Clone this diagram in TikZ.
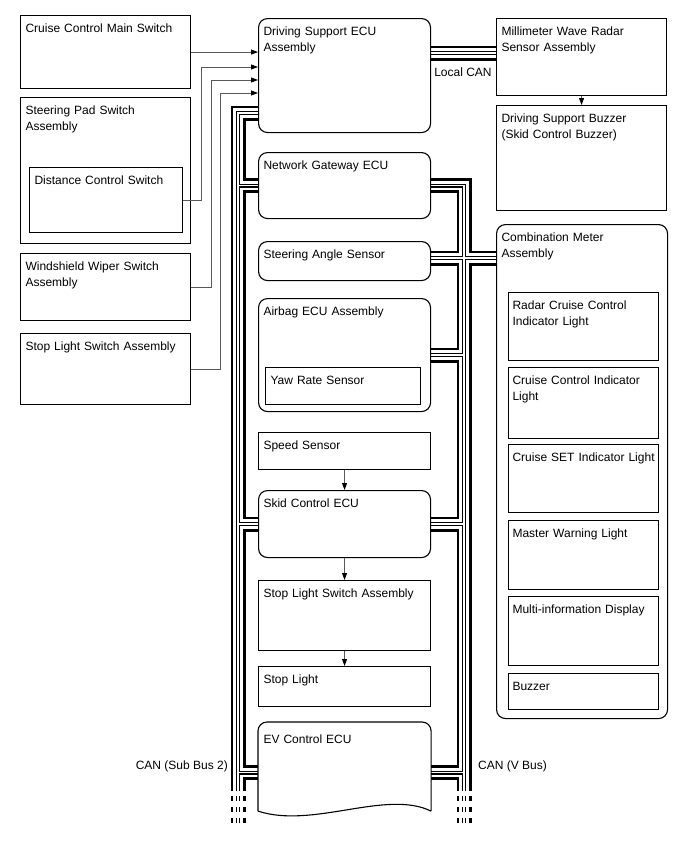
\documentclass[tikz,border=0pt]{standalone}
\usepackage{fontspec}
\setmainfont{Liberation Sans}
\usetikzlibrary{arrows.meta,calc,backgrounds}

\begin{document}
\begin{tikzpicture}[x=1pt,y=-1pt,
  caja/.style 2 args={draw,line width=1.1pt,anchor=north west,align=left,inner xsep=5pt,inner ysep=0pt,
    text width=#1,text height=17pt,text depth=#2,font=\fontsize{12}{16}\selectfont},
  cajar/.style 2 args={caja={#1}{#2},rounded corners=9pt},
  etiq/.style={inner sep=0pt,font=\fontsize{12}{16}\selectfont},
  sen/.style={line width=0.8pt,draw=black!65,-{Triangle[length=7pt,width=5pt,color=black]}}]
\useasboundingbox (0,0) rectangle (688,852);

%Interruptores (columna izquierda)
\node[caja={160pt}{56pt}] (ccms) at (20,15) {Cruise Control Main Switch};
\node[caja={160pt}{129pt}] (spsa) at (20,97) {Steering Pad Switch\\Assembly};
\node[caja={143pt}{48pt}] (dcs) at (29,167) {Distance Control Switch};
\node[caja={160pt}{50pt}] (wws) at (20,253) {Windshield Wiper Switch\\Assembly};
\node[caja={160pt}{54pt}] (sls) at (20,333) {Stop Light Switch Assembly};

%ECUs y sensores (columna central)
\node[cajar={162pt}{97pt}] (dsecu) at (258,18) {Driving Support ECU\\Assembly};
\node[cajar={162pt}{49pt}] (nge) at (258,152) {Network Gateway ECU};
\node[cajar={162pt}{22pt}] (sas) at (258,241) {Steering Angle Sensor};
\node[cajar={162pt}{96pt}] (abg) at (258,298) {Airbag ECU Assembly};
\node[caja={145pt}{20pt}] (yrs) at (265,367) {Yaw Rate Sensor};
\node[caja={162pt}{20pt}] (spd) at (258,432) {Speed Sensor};
\node[cajar={162pt}{50pt}] (skid) at (258,490) {Skid Control ECU};
\node[caja={162pt}{53pt}] (sls2) at (258,580) {Stop Light Switch Assembly};
\node[caja={162pt}{23pt}] (stl) at (258,666) {Stop Light};
\node[caja={162pt}{67pt},draw=none,text height=21pt] (ev) at (258,722) {EV Control ECU};
\draw[line width=1.1pt,rounded corners=9pt] (ev.south west) -- (ev.north west) -- (ev.north east) -- (ev.south east);
\draw[line width=1.1pt] (ev.south west) .. controls +(55,18) and +(-45,-22) .. (ev.south east);

%Columna derecha
\node[caja={160pt}{60pt}] (mwr) at (496,18) {Millimeter Wave Radar\\Sensor Assembly};
\node[caja={160pt}{88pt}] (dsb) at (496,105) {Driving Support Buzzer\\(Skid Control Buzzer)};
\node[cajar={161pt}{477pt}] (cmb) at (496,224) {Combination Meter\\Assembly};
\node[caja={142pt}{51pt},inner xsep=4pt] (rcc) at (508,292) {Radar Cruise Control\\Indicator Light};
\node[caja={142pt}{54pt},inner xsep=4pt] (cci) at (508,367) {Cruise Control Indicator\\Light};
\node[caja={142pt}{51pt},inner xsep=4pt] (cset) at (508,444) {\mbox{Cruise SET Indicator Light}};
\node[caja={142pt}{52pt},inner xsep=4pt] (mwl) at (508,520) {Master Warning Light};
\node[caja={142pt}{52pt},inner xsep=4pt] (mid) at (508,596) {Multi-information Display};
\node[caja={142pt}{19pt},inner xsep=4pt] (buz) at (508,673) {Buzzer};

%Senales
\draw[sen] (ccms.east) -- (ccms.east -| dsecu.west);
\draw[sen] (dcs.east) -- ++(18,0) |- ($(dsecu.north west)+(0,49)$);
\draw[sen] (wws.east) -- ++(20,0) |- ($(dsecu.north west)+(0,62)$);
\draw[sen] (sls.east) -- ++(29,0) |- ($(dsecu.north west)+(0,75)$);
\draw[sen] (mwr.south) -- (dsb.north);
\draw[sen] (spd.south) -- (skid.north);
\draw[sen] (skid.south) -- (sls2.north);
\draw[sen] (sls2.south) -- (stl.north);

%Buses CAN
\coordinate (lb) at (238,791);
\coordinate (rb) at (464,791);
\coordinate (lcan) at ($(dsecu.north east)+(0,35)$);
\begin{scope}[on background layer]
\foreach \w/\c in {15/black,9.5/white,4/black,1.8/white}{
    \draw[line width=\w pt,draw=\c,line join=miter]
      ([yshift=20pt]dsecu.south west) -| (lb)
      (nge.west) -- (nge.west -| lb)
      (skid.west) -- (skid.west -| lb)
      ([yshift=-6pt]ev.west) -- ([yshift=-6pt]ev.west -| lb)
      (nge.east) -| (rb)
      ([yshift=3pt]sas.east) -- ([yshift=3pt]sas.east -| cmb.west)
      (abg.east) -- (abg.east -| rb)
      (skid.east) -- (skid.east -| rb)
      ([yshift=-6pt]ev.east) -- ([yshift=-6pt]ev.east -| rb)
      (lcan) -- (lcan -| mwr.west);
    \draw[line width=\w pt,draw=\c,dash pattern=on 5pt off 6pt]
      ([yshift=-5pt]lb) -- ([yshift=-32pt]lb)
      ([yshift=-5pt]rb) -- ([yshift=-32pt]rb);
}
\end{scope}
\node[etiq,anchor=west] (lcan-t) at ($(lcan)+(3,19)$) {Local CAN};
\node[etiq,anchor=east] (lb-t) at ([xshift=-10pt]lb |- ev.west) {CAN (Sub Bus 2)};
\node[etiq,anchor=west] (rb-t) at ([xshift=14pt]rb |- ev.west) {CAN (V Bus)};
\end{tikzpicture}
\end{document}
